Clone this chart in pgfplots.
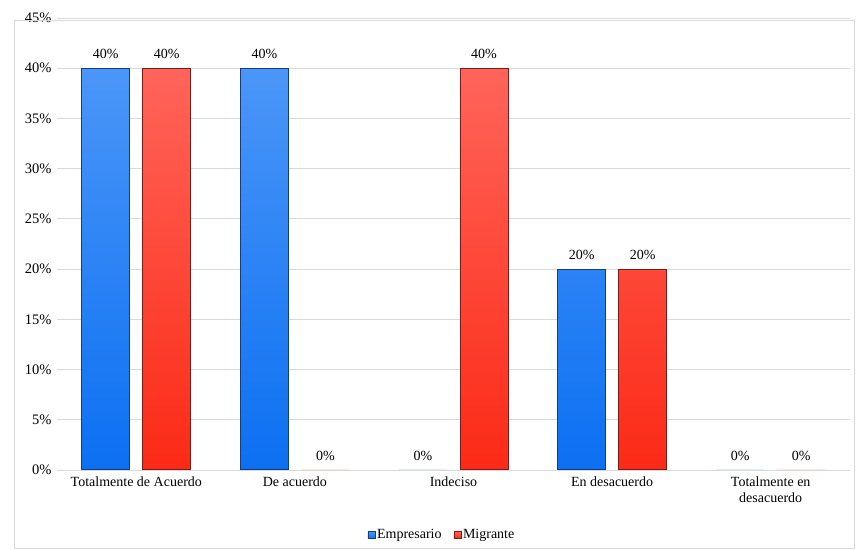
\documentclass[border=0pt]{standalone}
\usepackage{pgfplots}
\pgfplotsset{compat=1.18}
\usepackage{fontspec}
\setmainfont{Liberation Serif}

\definecolor{bluetop}{RGB}{75,150,248}
\definecolor{bluebot}{RGB}{12,112,242}
\definecolor{blueedge}{RGB}{20,60,130}
\definecolor{redtop}{RGB}{255,100,90}
\definecolor{redbot}{RGB}{252,42,22}
\definecolor{rededge}{RGB}{125,28,22}
\definecolor{gridgray}{RGB}{217,217,217}

\begin{document}
\begin{tikzpicture}
\begin{axis}[
  name=ax,
  scale only axis,
  width=793pt, height=452pt,
  xmin=-0.5, xmax=4.5,
  ymin=0, ymax=45,
  ytick={0,5,...,45},
  yticklabel={\pgfmathprintnumber{\tick}\%},
  /pgf/number format/assume math mode=true,
  xtick={0,1,2,3,4},
  xticklabels={Totalmente de Acuerdo, De acuerdo, Indeciso, En desacuerdo, {Totalmente en\\desacuerdo}},
  xticklabel style={align=center, font=\fontsize{14}{16}\selectfont, yshift=-3pt},
  yticklabel style={font=\fontsize{14.5}{16}\selectfont, xshift=-2pt},
  major tick length=0pt,
  axis line style={draw=none},
  ymajorgrids,
  grid style={gridgray, line width=0.9pt},
  ybar,
  bar width=48pt,
  nodes near coords style={font=\fontsize{14}{16}\selectfont, text=black, yshift=6pt},
  legend style={at={(0.4855,-0.144)}, anchor=center, draw=none,
    legend columns=2, font=\fontsize{14}{16}\selectfont,
    /tikz/every even column/.append style={column sep=10pt}},
]
% filled bars with value labels
\addplot[draw=none, top color=bluetop, bottom color=bluebot, bar shift=-30.5pt,
  nodes near coords={\pgfmathprintnumber{\pgfplotspointmeta}\%},
  legend image code/.code={\fill[bluebot,draw=blueedge,line width=0.4pt] (0pt,-3.5pt) rectangle (7pt,3.5pt);}]
  coordinates {(0,40) (1,40) (2,0) (3,20) (4,0)};
\addplot[draw=none, top color=redtop, bottom color=redbot, bar shift=30.5pt,
  nodes near coords={\pgfmathprintnumber{\pgfplotspointmeta}\%},
  legend image code/.code={\fill[redbot,draw=rededge,line width=0.4pt] (0pt,-3.5pt) rectangle (7pt,3.5pt);}]
  coordinates {(0,40) (1,0) (2,40) (3,20) (4,0)};
% dark outlines of the non-empty bars
\addplot[forget plot, fill=none, draw=blueedge, line width=1pt, bar shift=-30.5pt]
  coordinates {(0,40) (1,40) (3,20)};
\addplot[forget plot, fill=none, draw=rededge, line width=1pt, bar shift=30.5pt]
  coordinates {(0,40) (2,40) (3,20)};
\legend{Empresario, Migrante}
\end{axis}
% page size and frame
\pgfresetboundingbox
\path[use as bounding box] ([shift={(-57pt,-80pt)}]ax.south west) rectangle ([shift={(6pt,18pt)}]ax.north east);
\draw[gridgray, line width=0.8pt] ([shift={(-43pt,-78pt)}]ax.south west) rectangle ([shift={(4pt,-2pt)}]ax.north east);
\end{tikzpicture}
\end{document}
